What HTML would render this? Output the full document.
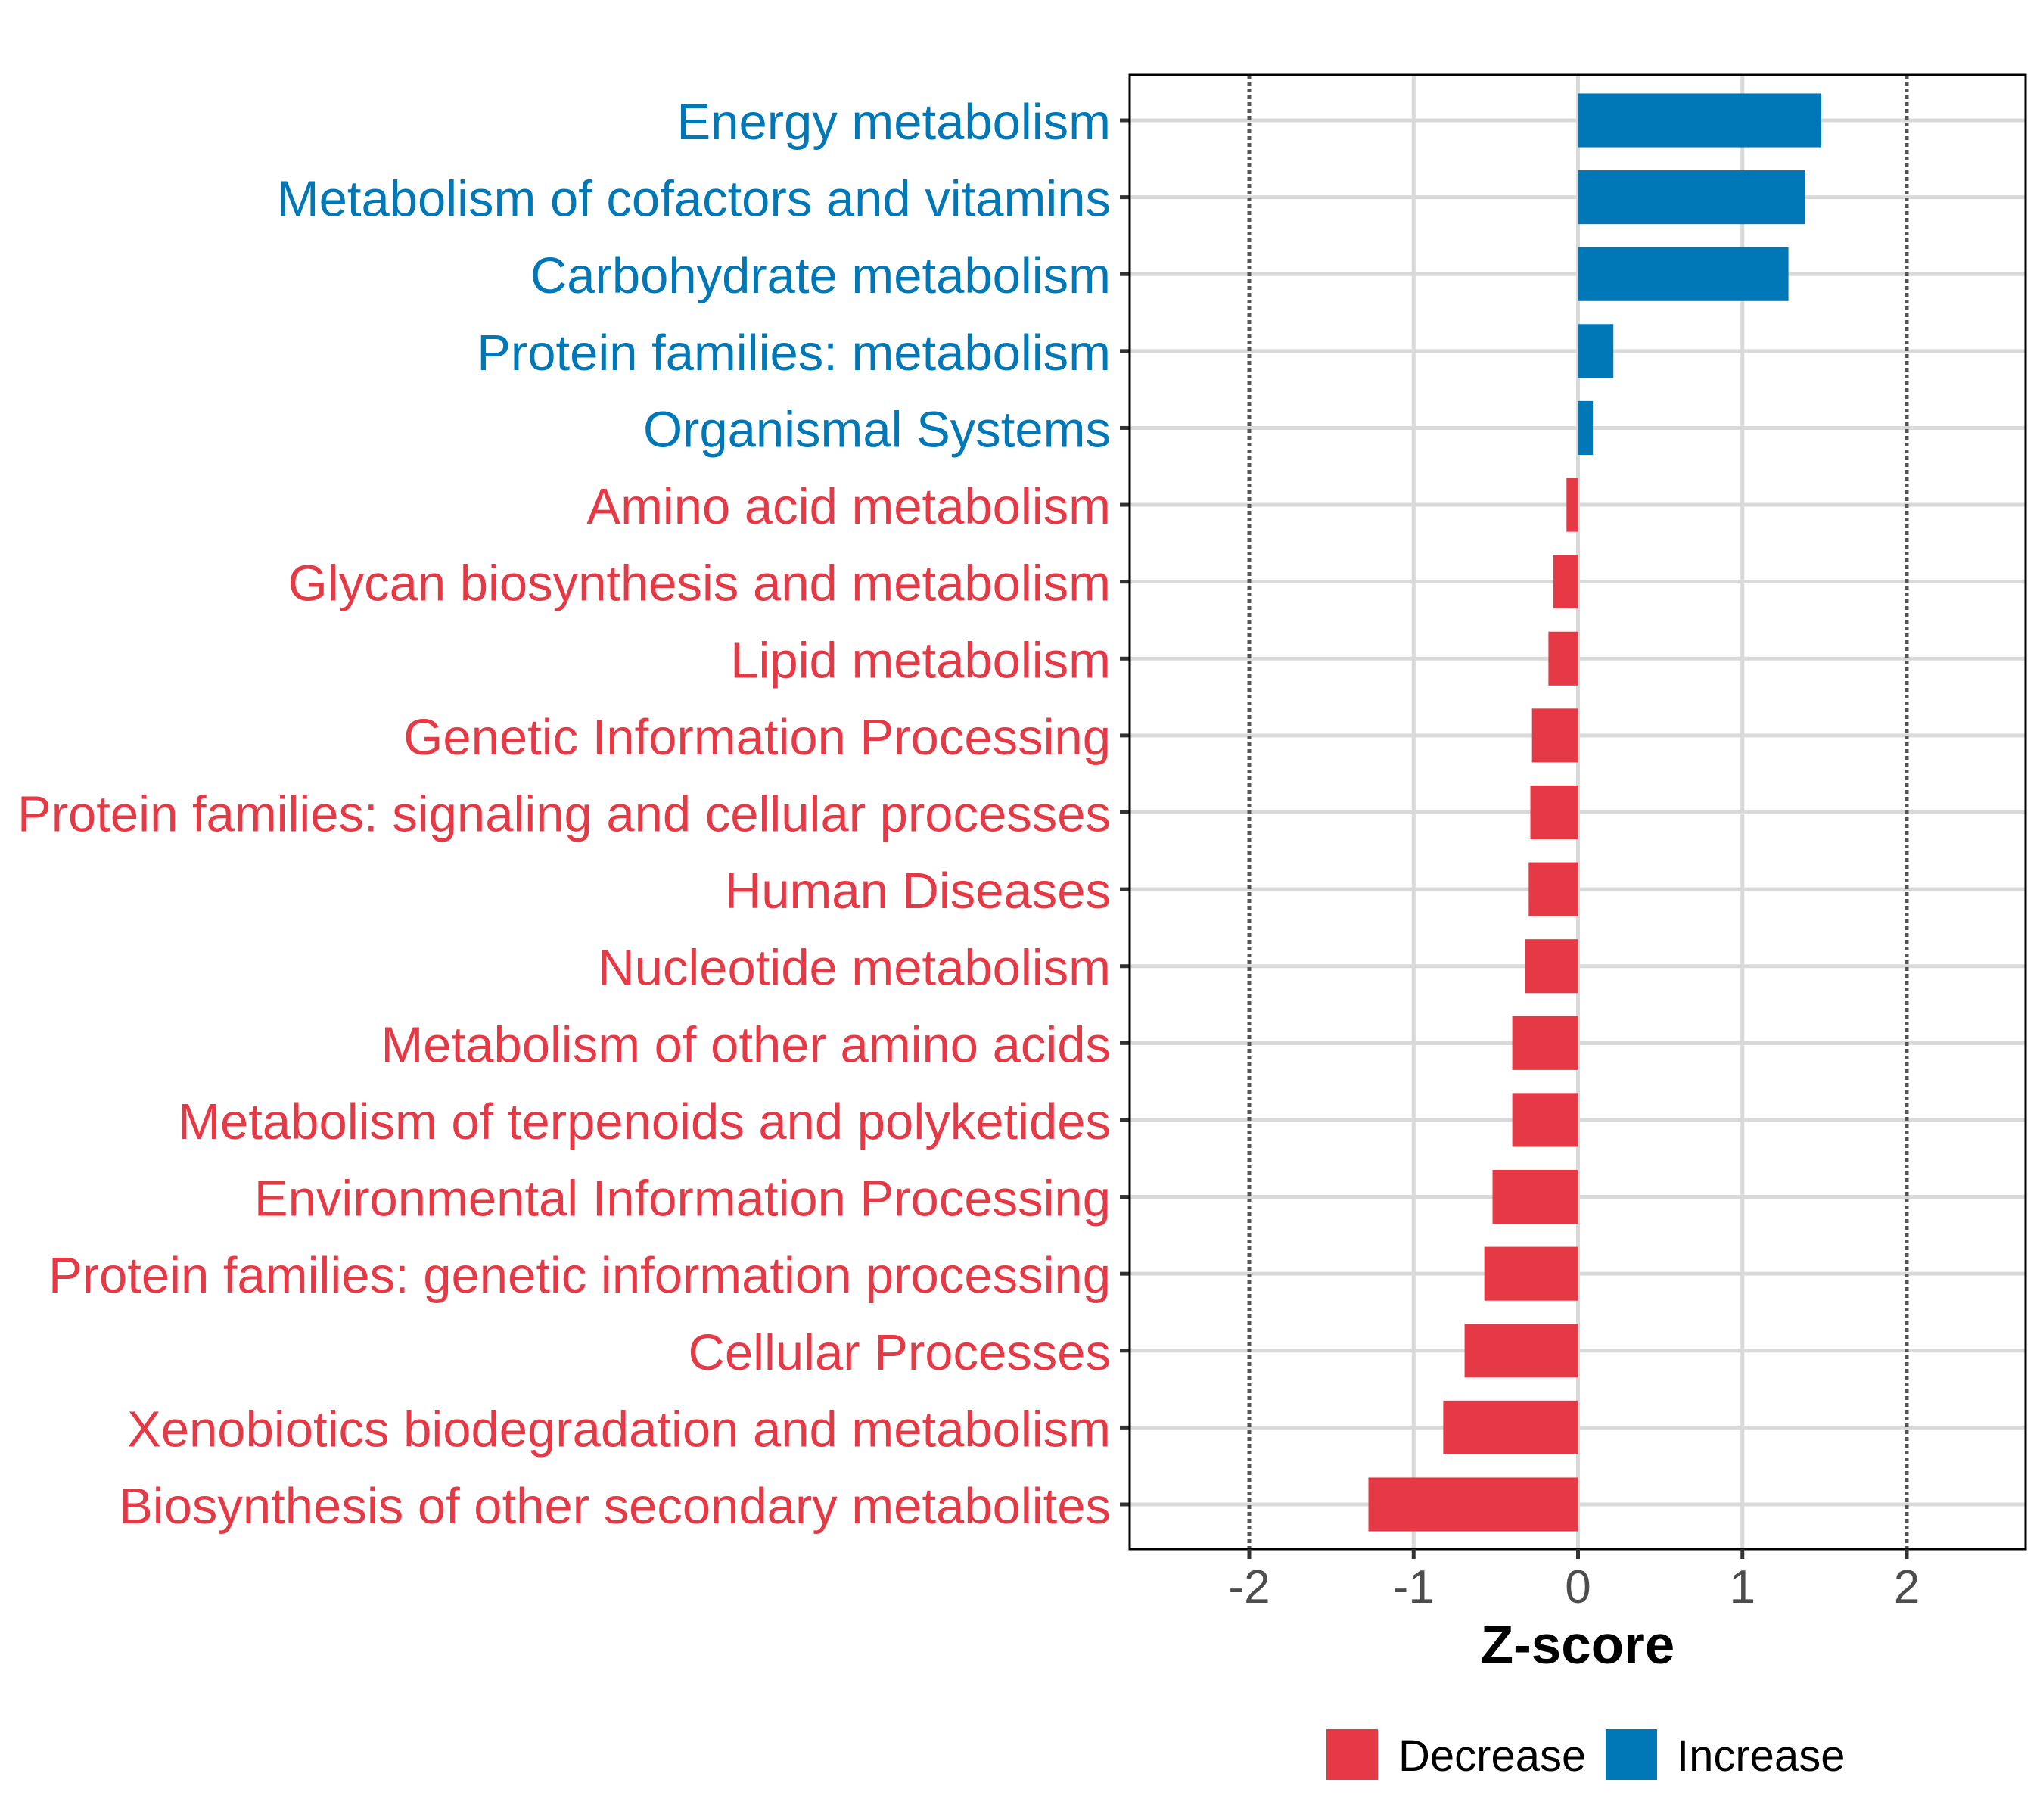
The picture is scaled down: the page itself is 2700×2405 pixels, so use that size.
<!DOCTYPE html>
<html><head><meta charset="utf-8"><style>
html,body{margin:0;padding:0;background:#fff;}
svg text{font-family:"Liberation Sans",sans-serif;}
</style></head><body>
<svg id="chart" width="2700" height="2400" viewBox="0 0 2700 2400" xmlns="http://www.w3.org/2000/svg">
<rect width="2700" height="2400" fill="#fff"/>
<g id="grid"></g><g id="bars"></g><g id="axes"></g><g id="labels"></g>
<text x="2085" y="2198" text-anchor="middle" font-size="71" font-weight="bold" fill="#000">Z-score</text>
<g>
<rect x="1753" y="2285" width="68" height="67" fill="#E63946"/>
<text x="1848" y="2340" font-size="58" fill="#000">Decrease</text>
<rect x="2122" y="2285" width="68" height="67" fill="#0077B6"/>
<text x="2216" y="2340" font-size="58" fill="#000">Increase</text>
</g>
</svg>
<script>
const categories = ["Energy metabolism","Metabolism of cofactors and vitamins","Carbohydrate metabolism","Protein families: metabolism","Organismal Systems","Amino acid metabolism","Glycan biosynthesis and metabolism","Lipid metabolism","Genetic Information Processing","Protein families: signaling and cellular processes","Human Diseases","Nucleotide metabolism","Metabolism of other amino acids","Metabolism of terpenoids and polyketides","Environmental Information Processing","Protein families: genetic information processing","Cellular Processes","Xenobiotics biodegradation and metabolism","Biosynthesis of other secondary metabolites"];
const zscores = [1.48,1.38,1.28,0.215,0.09,-0.07,-0.15,-0.18,-0.28,-0.29,-0.30,-0.32,-0.40,-0.40,-0.52,-0.57,-0.69,-0.82,-1.275];
const xTicks = [-2,-1,0,1,2];
const xTickLabels = ["-2","-1","0","1","2"];
const refLines = [-2,2];

const NS="http://www.w3.org/2000/svg";
const L=1493,R=2677,T=99,B=2047;
const x0=2085.5,unit=217.25;
function xs(v){return x0+v*unit;}
const y1=159,step=(1988-159)/18;
function ys(i){return y1+i*step;}
const bh=step*0.7;
function mk(tag,attrs,parent){const e=document.createElementNS(NS,tag);for(const k in attrs)e.setAttribute(k,attrs[k]);parent.appendChild(e);return e;}
const grid=document.getElementById('grid'),bars=document.getElementById('bars'),axes=document.getElementById('axes'),labels=document.getElementById('labels');
xTicks.forEach((t,i)=>{
  if(refLines.includes(t))return;
  const g=mk('line',{x1:xs(t),x2:xs(t),y1:T,y2:B,stroke:'#d9d9d9','stroke-width':5},grid);
  
  
});
categories.forEach((c,i)=>{
  const g=mk('line',{x1:L,x2:R,y1:ys(i),y2:ys(i),stroke:'#d9d9d9','stroke-width':5},grid);
  
  
});
refLines.forEach(v=>{
  const g=mk('line',{x1:xs(v),x2:xs(v),y1:T,y2:B,stroke:'#555','stroke-width':5,'stroke-dasharray':'5 4'},grid);
  
  
});
categories.forEach((c,i)=>{
  const v=zscores[i];
  const col=v>=0?'#0077B6':'#E63946';
  const b=mk('rect',{x:Math.min(xs(0),xs(v)),y:ys(i)-bh/2,width:Math.abs(xs(v)-xs(0)),height:bh,fill:col},bars);
  
  
  const t=mk('text',{x:1468,y:ys(i)+25,'text-anchor':'end','font-size':67,fill:col},labels);
  t.textContent=c;
  
  
  const tk=mk('line',{x1:1480,x2:L,y1:ys(i),y2:ys(i),stroke:'#333','stroke-width':5},axes);
  
  
});
const frame=mk('rect',{x:L,y:T,width:R-L,height:B-T,fill:'none',stroke:'#000','stroke-width':3},axes);


xTicks.forEach((t,i)=>{
  const tk=mk('line',{x1:xs(t),x2:xs(t),y1:B,y2:B+13,stroke:'#333','stroke-width':5},axes);
  
  
  const lb=mk('text',{x:xs(t),y:2118,'text-anchor':'middle','font-size':62,fill:'#4d4d4d'},labels);
  lb.textContent=xTickLabels[i];
  
  
});
</script>
</body></html>
